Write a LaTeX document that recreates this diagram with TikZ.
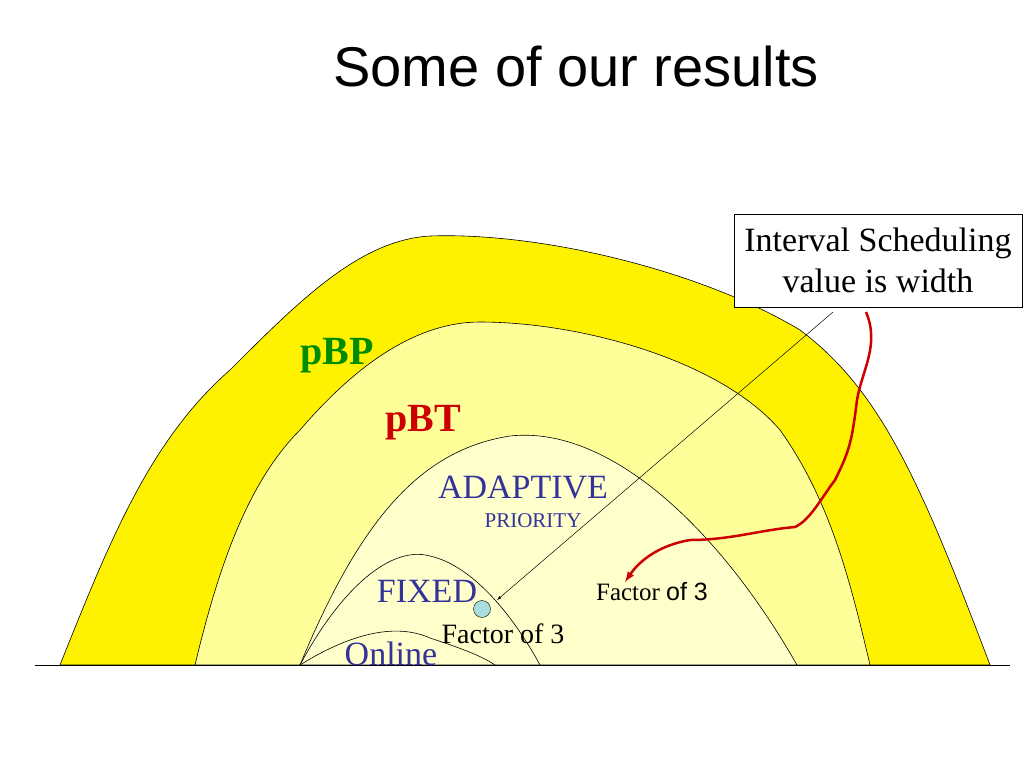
\documentclass[tikz,border=0pt]{standalone}
\usepackage{fontspec}
\setmainfont{Liberation Serif}
\newfontfamily\arialf{Liberation Sans}
\begin{document}
\begin{tikzpicture}[x=1pt,y=-1pt,
  dome/.style={draw=black,line width=0.6pt},
  lab/.style={inner sep=0pt,anchor=base}]
\useasboundingbox (0,0) rectangle (1024,768);
\fill[white] (0,0) rectangle (1024,768);
\node[lab,font=\arialf\fontsize{56}{58}\selectfont] (title) at (576,86) {Some of our results};
% domes
\draw[dome,fill=yellow] (60,665) .. controls (110,540) and (150,440) .. (230,370)
  .. controls (300,300) and (360,240) .. (430,236) .. controls (540,232) and (700,270) .. (800,330)
  .. controls (880,390) and (920,480) .. (990,665) -- cycle;
\draw[dome,fill={rgb,255:red,255;green,255;blue,153}] (195,665) .. controls (220,560) and (250,480) .. (300,430)
  .. controls (360,360) and (420,322) .. (480,322) .. controls (580,322) and (720,360) .. (780,430)
  .. controls (830,500) and (850,580) .. (870,665) -- cycle;
\draw[dome,fill={rgb,255:red,255;green,255;blue,204}] (300,665) .. controls (360,520) and (420,450) .. (510,436)
  .. controls (610,425) and (720,530) .. (797,665) -- cycle;
\draw[dome] (300,665) .. controls (340,590) and (390,545) .. (430,556) .. controls (470,565) and (510,610) .. (540,665);
\draw[dome] (300,665) .. controls (340,640) and (390,620) .. (430,638) .. controls (460,648) and (480,655) .. (495,665);
\draw[line width=0.6pt] (35,665) -- (1010,665);
% labels
\node[lab,font=\bfseries\fontsize{40}{42}\selectfont,text={rgb,255:red,0;green,140;blue,0}] (pbp) at (337,364) {pBP};
\node[lab,font=\bfseries\fontsize{40}{42}\selectfont,text={rgb,255:red,204;green,0;blue,0}] (pbt) at (423,431) {pBT};
\node[lab,font=\fontsize{34}{36}\selectfont,text={rgb,255:red,51;green,51;blue,153}] (adp) at (523,498) {ADAPTIVE};
\node[lab,font=\fontsize{21}{22}\selectfont,text={rgb,255:red,51;green,51;blue,153}] (pri) at (533,527) {PRIORITY};
\node[lab,font=\fontsize{34}{36}\selectfont,text={rgb,255:red,51;green,51;blue,153}] (fix) at (427,602) {FIXED};
\node[lab,font=\fontsize{34}{36}\selectfont,text={rgb,255:red,51;green,51;blue,153}] (onl) at (391,665) {Online};
\node[lab,font=\fontsize{28}{30}\selectfont] (f1) at (503,643) {Factor of 3};
\node[lab,font=\fontsize{25}{27}\selectfont] (f2) at (652,600) {Factor {\arialf of 3}};
\node[circle,draw=black,fill={rgb,255:red,170;green,221;blue,221},minimum size=17pt,inner sep=0pt] (dot) at (482,609) {};
% box
\node[draw=black,fill=white,minimum width=288pt,minimum height=93pt,align=center,
  font=\fontsize{34}{41}\selectfont] (box) at (878,260.5) {Interval Scheduling\\value is width};
\coordinate (a1) at (833,312);
\coordinate (a2) at (497,600);
\draw[-latex,line width=0.5pt] (a1) -- (a2);
\coordinate (r1) at (866,312);
\coordinate (r2) at (625,582);
\draw[-latex,line width=2.5pt,draw={rgb,255:red,204;green,0;blue,0}] (r1)
  .. controls (880,345) and (862,370) .. (857,400)
  .. controls (852,440) and (850,450) .. (835,480)
  .. controls (820,500) and (810,520) .. (795,527)
  .. controls (760,530) and (730,540) .. (690,540)
  .. controls (660,545) and (640,560) .. (r2);
\end{tikzpicture}
\end{document}
